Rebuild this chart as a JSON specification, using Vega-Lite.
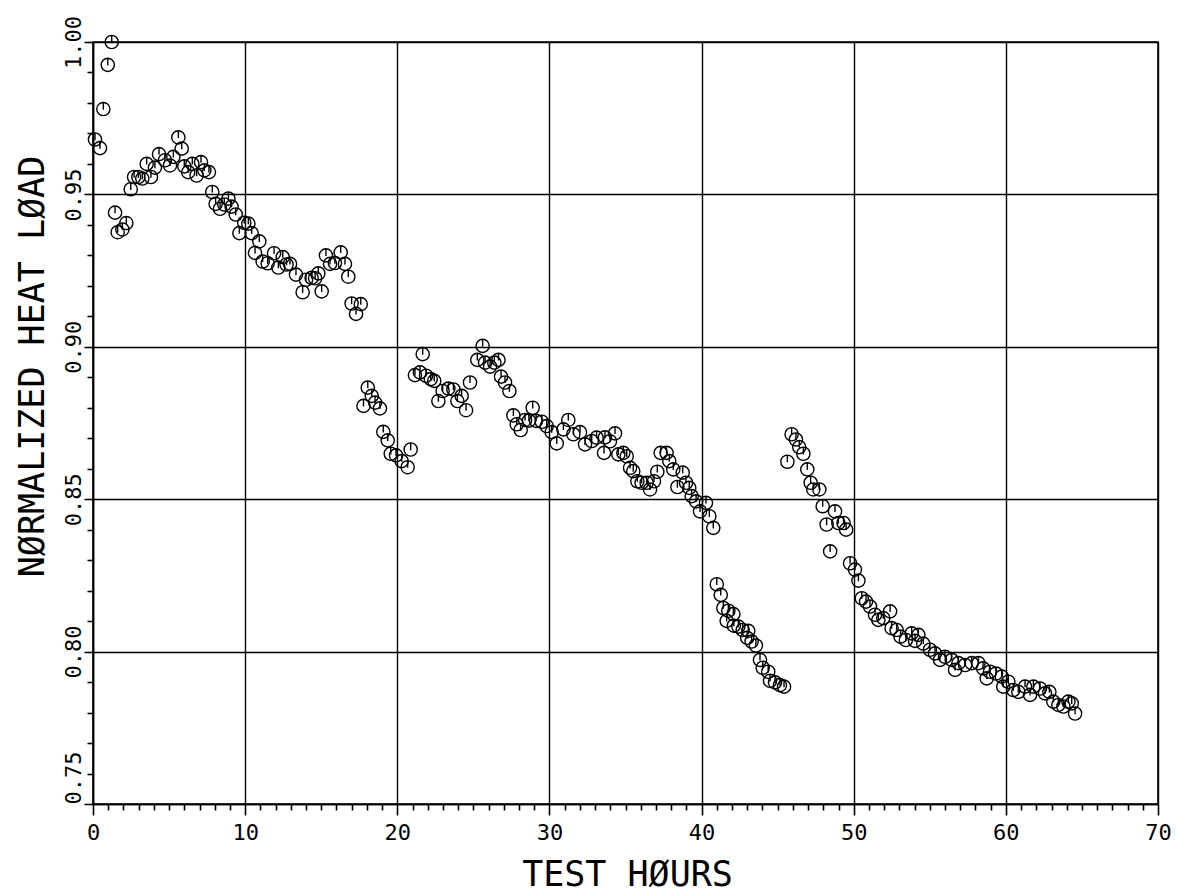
{
  "$schema": "https://vega.github.io/schema/vega-lite/v6.json",
  "autosize": "none",
  "width": 1065,
  "height": 762,
  "padding": {"left": 93, "top": 42, "right": 19, "bottom": 90},
  "background": "white",
  "config": {
    "view": {"stroke": "black", "strokeWidth": 1.6},
    "axis": {
      "domainColor": "black", "domainWidth": 1.6,
      "tickColor": "black", "tickWidth": 1.6,
      "gridColor": "black", "gridWidth": 1.4,
      "labelColor": "black", "titleColor": "black",
      "labelFont": "DejaVu Sans Mono", "titleFont": "DejaVu Sans Mono",
      "labelFontSize": 22, "titleFontSize": 35, "titleFontWeight": "normal",
      "labelOverlap": false, "labelBound": false, "labelFlush": false
    }
  },
  "data": {"values": [
    {"hours": 0.13, "load": 0.968}, {"hours": 0.46, "load": 0.9652}, {"hours": 0.68, "load": 0.978}, {"hours": 0.97, "load": 0.9925}, {"hours": 1.23, "load": 1.0},
    {"hours": 1.45, "load": 0.944}, {"hours": 1.62, "load": 0.9376}, {"hours": 1.93, "load": 0.9385}, {"hours": 2.19, "load": 0.9406},
    {"hours": 2.48, "load": 0.9517}, {"hours": 2.7, "load": 0.9557}, {"hours": 2.98, "load": 0.9557}, {"hours": 3.24, "load": 0.9552}, {"hours": 3.53, "load": 0.96}, {"hours": 3.81, "load": 0.9557}, {"hours": 4.07, "load": 0.9588}, {"hours": 4.34, "load": 0.9632}, {"hours": 4.73, "load": 0.9612}, {"hours": 5.06, "load": 0.9595}, {"hours": 5.28, "load": 0.9623}, {"hours": 5.61, "load": 0.9687}, {"hours": 5.83, "load": 0.965}, {"hours": 6.0, "load": 0.9592}, {"hours": 6.26, "load": 0.9573}, {"hours": 6.53, "load": 0.96}, {"hours": 6.81, "load": 0.9562}, {"hours": 7.1, "load": 0.9606}, {"hours": 7.32, "load": 0.9579}, {"hours": 7.62, "load": 0.9573}, {"hours": 7.84, "load": 0.9508}, {"hours": 8.06, "load": 0.9469}, {"hours": 8.35, "load": 0.9453}, {"hours": 8.63, "load": 0.9467}, {"hours": 8.9, "load": 0.9486}, {"hours": 9.11, "load": 0.946}, {"hours": 9.38, "load": 0.9434}, {"hours": 9.62, "load": 0.9373}, {"hours": 9.94, "load": 0.9407}, {"hours": 10.21, "load": 0.9404}, {"hours": 10.43, "load": 0.9373}, {"hours": 10.65, "load": 0.9308}, {"hours": 10.93, "load": 0.9346}, {"hours": 11.15, "load": 0.928}, {"hours": 11.48, "load": 0.9274}, {"hours": 11.9, "load": 0.9307}, {"hours": 12.18, "load": 0.926}, {"hours": 12.47, "load": 0.9294}, {"hours": 12.72, "load": 0.927}, {"hours": 12.95, "load": 0.9272}, {"hours": 13.34, "load": 0.9237}, {"hours": 13.78, "load": 0.9179}, {"hours": 14.0, "load": 0.922}, {"hours": 14.37, "load": 0.9226}, {"hours": 14.6, "load": 0.9225}, {"hours": 14.81, "load": 0.9241}, {"hours": 15.03, "load": 0.9182}, {"hours": 15.31, "load": 0.93}, {"hours": 15.58, "load": 0.9272}, {"hours": 15.9, "load": 0.9275}, {"hours": 16.28, "load": 0.931}, {"hours": 16.56, "load": 0.9272}, {"hours": 16.78, "load": 0.923}, {"hours": 17.0, "load": 0.9142}, {"hours": 17.29, "load": 0.9108}, {"hours": 17.6, "load": 0.914},
    {"hours": 17.78, "load": 0.8806}, {"hours": 18.06, "load": 0.8866}, {"hours": 18.32, "load": 0.8839}, {"hours": 18.54, "load": 0.8817}, {"hours": 18.86, "load": 0.8798}, {"hours": 19.08, "load": 0.8721}, {"hours": 19.37, "load": 0.8693}, {"hours": 19.57, "load": 0.8649}, {"hours": 19.92, "load": 0.8644}, {"hours": 20.29, "load": 0.8625}, {"hours": 20.68, "load": 0.8605}, {"hours": 20.88, "load": 0.8663},
    {"hours": 21.16, "load": 0.8907}, {"hours": 21.49, "load": 0.8916}, {"hours": 21.67, "load": 0.8976}, {"hours": 21.89, "load": 0.8905}, {"hours": 22.2, "load": 0.8894}, {"hours": 22.43, "load": 0.8888}, {"hours": 22.7, "load": 0.8822}, {"hours": 22.98, "load": 0.8855}, {"hours": 23.36, "load": 0.8863}, {"hours": 23.69, "load": 0.886}, {"hours": 23.95, "load": 0.8822}, {"hours": 24.23, "load": 0.8839}, {"hours": 24.52, "load": 0.8792}, {"hours": 24.78, "load": 0.8883}, {"hours": 25.26, "load": 0.8957}, {"hours": 25.61, "load": 0.9003}, {"hours": 25.77, "load": 0.8948}, {"hours": 26.1, "load": 0.8935}, {"hours": 26.38, "load": 0.8948}, {"hours": 26.65, "load": 0.8957}, {"hours": 26.82, "load": 0.8902}, {"hours": 27.08, "load": 0.8883}, {"hours": 27.37, "load": 0.8855}, {"hours": 27.63, "load": 0.8775}, {"hours": 27.85, "load": 0.8746}, {"hours": 28.11, "load": 0.8727}, {"hours": 28.4, "load": 0.876}, {"hours": 28.65, "load": 0.8758}, {"hours": 28.9, "load": 0.88}, {"hours": 29.12, "load": 0.8757}, {"hours": 29.5, "load": 0.8754}, {"hours": 29.82, "load": 0.874}, {"hours": 30.15, "load": 0.872}, {"hours": 30.48, "load": 0.8683}, {"hours": 30.92, "load": 0.8729}, {"hours": 31.24, "load": 0.876}, {"hours": 31.57, "load": 0.8713}, {"hours": 32.01, "load": 0.872}, {"hours": 32.34, "load": 0.868}, {"hours": 32.78, "load": 0.8691}, {"hours": 33.1, "load": 0.8702}, {"hours": 33.59, "load": 0.8652}, {"hours": 33.65, "load": 0.8703}, {"hours": 33.98, "load": 0.869}, {"hours": 34.31, "load": 0.8716}, {"hours": 34.53, "load": 0.8647}, {"hours": 34.86, "load": 0.8652}, {"hours": 35.08, "load": 0.8641}, {"hours": 35.3, "load": 0.8603}, {"hours": 35.51, "load": 0.8592}, {"hours": 35.78, "load": 0.8559}, {"hours": 36.06, "load": 0.8554}, {"hours": 36.39, "load": 0.8554}, {"hours": 36.61, "load": 0.8532}, {"hours": 36.87, "load": 0.8559}, {"hours": 37.09, "load": 0.859}, {"hours": 37.31, "load": 0.8652}, {"hours": 37.7, "load": 0.8652}, {"hours": 37.88, "load": 0.8625}, {"hours": 38.14, "load": 0.8598}, {"hours": 38.41, "load": 0.854}, {"hours": 38.76, "load": 0.8587}, {"hours": 38.98, "load": 0.8554}, {"hours": 39.19, "load": 0.8537}, {"hours": 39.35, "load": 0.851}, {"hours": 39.64, "load": 0.8493}, {"hours": 39.9, "load": 0.846}, {"hours": 40.29, "load": 0.8488}, {"hours": 40.51, "load": 0.8444}, {"hours": 40.77, "load": 0.8406},
    {"hours": 41.0, "load": 0.8221}, {"hours": 41.26, "load": 0.8186}, {"hours": 41.43, "load": 0.8143}, {"hours": 41.65, "load": 0.8101}, {"hours": 41.76, "load": 0.8134}, {"hours": 42.09, "load": 0.8123}, {"hours": 42.12, "load": 0.8085}, {"hours": 42.42, "load": 0.8082}, {"hours": 42.7, "load": 0.8071}, {"hours": 43.07, "load": 0.8068}, {"hours": 43.0, "load": 0.8045}, {"hours": 43.29, "load": 0.8033}, {"hours": 43.57, "load": 0.802}, {"hours": 43.84, "load": 0.7973}, {"hours": 44.02, "load": 0.7947}, {"hours": 44.38, "load": 0.7934}, {"hours": 44.5, "load": 0.7904}, {"hours": 44.83, "load": 0.7899}, {"hours": 45.15, "load": 0.789}, {"hours": 45.42, "load": 0.7885},
    {"hours": 45.64, "load": 0.8623}, {"hours": 45.92, "load": 0.8713}, {"hours": 46.2, "load": 0.8696}, {"hours": 46.42, "load": 0.8671}, {"hours": 46.69, "load": 0.8649}, {"hours": 46.95, "load": 0.8598}, {"hours": 47.17, "load": 0.8554}, {"hours": 47.34, "load": 0.8532}, {"hours": 47.74, "load": 0.8532}, {"hours": 47.96, "load": 0.8477}, {"hours": 48.22, "load": 0.8417}, {"hours": 48.45, "load": 0.8329}, {"hours": 48.77, "load": 0.846}, {"hours": 48.99, "load": 0.8422}, {"hours": 49.33, "load": 0.8422}, {"hours": 49.5, "load": 0.84}, {"hours": 49.76, "load": 0.829}, {"hours": 50.08, "load": 0.8269}, {"hours": 50.31, "load": 0.8233}, {"hours": 50.53, "load": 0.8175}, {"hours": 50.81, "load": 0.8164}, {"hours": 51.07, "load": 0.8148}, {"hours": 51.4, "load": 0.8121}, {"hours": 51.62, "load": 0.8104}, {"hours": 51.94, "load": 0.811}, {"hours": 52.39, "load": 0.8132}, {"hours": 52.49, "load": 0.8077}, {"hours": 52.82, "load": 0.8071}, {"hours": 53.08, "load": 0.8049}, {"hours": 53.43, "load": 0.8038}, {"hours": 53.81, "load": 0.806}, {"hours": 54.03, "load": 0.8035}, {"hours": 54.25, "load": 0.8055}, {"hours": 54.57, "load": 0.8026}, {"hours": 55.01, "load": 0.8006}, {"hours": 55.34, "load": 0.7994}, {"hours": 55.67, "load": 0.7973}, {"hours": 56.0, "load": 0.7983}, {"hours": 56.44, "load": 0.7973}, {"hours": 56.66, "load": 0.794}, {"hours": 56.88, "load": 0.7962}, {"hours": 57.32, "load": 0.7956}, {"hours": 57.76, "load": 0.7962}, {"hours": 58.2, "load": 0.7962}, {"hours": 58.5, "load": 0.7945}, {"hours": 58.74, "load": 0.7912}, {"hours": 58.96, "load": 0.7934}, {"hours": 59.35, "load": 0.7928}, {"hours": 59.73, "load": 0.7918}, {"hours": 59.83, "load": 0.7885}, {"hours": 60.16, "load": 0.7901}, {"hours": 60.49, "load": 0.7874}, {"hours": 60.82, "load": 0.7868}, {"hours": 61.26, "load": 0.7885}, {"hours": 61.59, "load": 0.7858}, {"hours": 61.81, "load": 0.7885}, {"hours": 62.24, "load": 0.7879}, {"hours": 62.57, "load": 0.7863}, {"hours": 62.86, "load": 0.7868}, {"hours": 63.12, "load": 0.7836}, {"hours": 63.45, "load": 0.7825}, {"hours": 63.78, "load": 0.782}, {"hours": 64.11, "load": 0.7836}, {"hours": 64.33, "load": 0.783}, {"hours": 64.55, "load": 0.7797}
  ]},
  "mark": {
    "type": "point",
    "shape": "M0,-1A1,1,0,0,1,0,1A1,1,0,0,1,0,-1ZM0,-1L0,0.1",
    "filled": false,
    "stroke": "black",
    "strokeWidth": 1.4,
    "size": 175,
    "opacity": 1
  },
  "encoding": {
    "x": {
      "field": "hours", "type": "quantitative",
      "scale": {"domain": [0, 70], "nice": false, "zero": false},
      "axis": {
        "title": "TEST HØURS",
        "values": [0,1,2,3,4,5,6,7,8,9,10,11,12,13,14,15,16,17,18,19,20,21,22,23,24,25,26,27,28,29,30,31,32,33,34,35,36,37,38,39,40,41,42,43,44,45,46,47,48,49,50,51,52,53,54,55,56,57,58,59,60,61,62,63,64,65,66,67,68,69,70],
        "labelExpr": "datum.value % 10 === 0 ? format(datum.value, 'd') : ''",
        "grid": true,
        "gridOpacity": {"condition": {"test": "datum.value % 10 === 0", "value": 1}, "value": 0},
        "tickSize": {"condition": {"test": "datum.value % 10 === 0", "value": 11}, "value": 6},
        "labelBaseline": "alphabetic",
        "labelPadding": 24,
        "titleX": 534,
        "titleY": 81,
        "titleAlign": "center",
        "titleBaseline": "alphabetic",
        "titleAnchor": "middle"
      }
    },
    "y": {
      "field": "load", "type": "quantitative",
      "scale": {"domain": [0.75, 1.0], "nice": false, "zero": false},
      "axis": {
        "title": "NØRMALIZED HEAT LØAD",
        "values": [0.75,0.76,0.77,0.78,0.79,0.8,0.81,0.82,0.83,0.84,0.85,0.86,0.87,0.88,0.89,0.9,0.91,0.92,0.93,0.94,0.95,0.96,0.97,0.98,0.99,1.0],
        "labelExpr": "round(datum.value * 100) % 5 === 0 ? format(datum.value, '.2f') : ''",
        "grid": true,
        "gridOpacity": {"condition": {"test": "round(datum.value * 100) % 5 === 0", "value": 1}, "value": 0},
        "tickSize": {"condition": {"test": "round(datum.value * 100) % 5 === 0", "value": 9}, "value": 6},
        "labelAngle": -90,
        "labelAlign": {"condition": {"test": "datum.value < 0.755", "value": "left"}, "value": "center"},
        "labelBaseline": "alphabetic",
        "labelPadding": 4,
        "titleAngle": -90,
        "titleX": -50,
        "titleY": 324,
        "titleAlign": "center",
        "titleBaseline": "alphabetic",
        "titleAnchor": "middle"
      }
    }
  }
}
